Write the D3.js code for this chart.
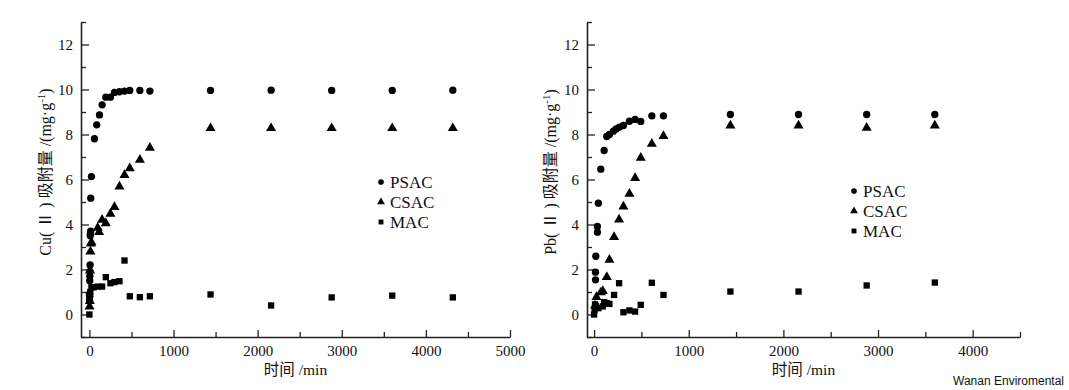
<!DOCTYPE html>
<html>
<head>
<meta charset="utf-8">
<script src="https://cdn.jsdelivr.net/npm/d3@7"></script>
<style>
  body { margin: 0; background: #fff; }
  svg text { font-family: "Liberation Serif", "Noto Sans CJK SC", serif; fill: #111; }
</style>
</head>
<body>
<div id="chart"></div>
<script>
var svgWidth = 1069;
var svgHeight = 390;

// series names
var seriesNames = ["PSAC", "CSAC", "MAC"];

// Cu(II) panel, time in min
var cuPsacT = [0, 2, 3, 4, 5, 6, 8, 10, 12, 15, 16, 24, 60, 87, 120, 151, 195, 250, 298, 357, 417, 480, 600, 719, 1440, 2160, 2880, 3600, 4320];
var cuPsacV = [0.9, 0.6, 0.8, 1.5, 1.7, 1.9, 2.2, 3.5, 3.6, 3.7, 5.17, 6.13, 7.81, 8.43, 8.87, 9.32, 9.66, 9.66, 9.87, 9.9, 9.93, 9.96, 9.96, 9.93, 9.96, 9.97, 9.96, 9.96, 9.97];
var cuCsacT = [2, 5, 8, 12, 18, 24, 99, 115, 151, 195, 250, 298, 357, 417, 480, 600, 719, 1440, 2160, 2880, 3600, 4320];
var cuCsacV = [0.35, 0.6, 1.95, 2.8, 3.15, 3.21, 3.85, 3.66, 4.21, 4.05, 4.47, 4.77, 5.69, 6.2, 6.5, 6.87, 7.41, 8.28, 8.28, 8.28, 8.28, 8.28];
var cuMacT = [0, 3, 5, 8, 10, 24, 51, 99, 151, 195, 250, 298, 357, 417, 480, 600, 719, 1440, 2160, 2880, 3600, 4320];
var cuMacV = [0, 0.65, 0.75, 0.85, 1.0, 1.21, 1.21, 1.24, 1.24, 1.66, 1.39, 1.44, 1.48, 2.4, 0.81, 0.77, 0.81, 0.89, 0.4, 0.76, 0.84, 0.76];

// Pb(II) panel, time in min
var pbPsacT = [15, 15, 15, 18, 35, 35, 45, 71, 106, 134, 162, 204, 233, 268, 310, 373, 433, 493, 610, 733, 1440, 2160, 2880, 3600];
var pbPsacV = [1.54, 1.88, 0.4, 2.59, 3.66, 3.91, 4.95, 6.46, 7.29, 7.91, 8.0, 8.15, 8.25, 8.33, 8.4, 8.59, 8.67, 8.58, 8.83, 8.83, 8.89, 8.89, 8.89, 8.89];
var pbCsacT = [10, 25, 71, 92, 134, 162, 211, 264, 310, 373, 433, 493, 610, 733, 1440, 2160, 2880, 3600];
var pbCsacV = [0.4, 0.77, 0.98, 1.04, 1.66, 2.43, 3.44, 4.22, 4.8, 5.36, 6.06, 6.96, 7.59, 7.93, 8.4, 8.4, 8.3, 8.4];
var pbMacT = [0, 5, 10, 20, 45, 92, 106, 134, 162, 211, 264, 310, 373, 433, 493, 610, 733, 1440, 2160, 2880, 3600];
var pbMacV = [0, 0.2, 0.45, 0.3, 0.28, 0.36, 0.55, 0.5, 0.47, 0.87, 1.39, 0.1, 0.18, 0.13, 0.43, 1.41, 0.87, 1.02, 1.02, 1.29, 1.42];

var xTicksCu = [0, 1000, 2000, 3000, 4000, 5000];
var xTicksPb = [0, 1000, 2000, 3000, 4000];
var yTicks = [0, 2, 4, 6, 8, 10, 12];

var svg = d3.select("#chart")
  .append("svg")
  .attr("width", svgWidth)
  .attr("height", svgHeight);

function zip(t, v) {
  return t.map(function(d, i) { return {t: d, v: v[i]}; });
}

var symbolOf = {PSAC: d3.symbolCircle, CSAC: d3.symbolTriangle, MAC: d3.symbolSquare};
var sizeOf = {PSAC: 42, CSAC: 44, MAC: 40};

function drawPanel(opt) {
  var x = d3.scaleLinear().domain(opt.xDomain).range([opt.left, opt.right]);
  var y = d3.scaleLinear().domain([-1, 13]).range([337, 22]);
  var g = svg.append("g");

  // axes (ticks inward)
  var xMinor = d3.range(500, opt.xDomain[1] + 1, 1000);
  var yMinor = d3.range(-1, 14, 2);

  g.append("g")
    .attr("transform", "translate(0,337)")
    .call(d3.axisTop(x).tickValues(xMinor).tickSize(5).tickFormat(""))
    .call(function(a) { a.select(".domain").remove(); });
  var xa = g.append("g")
    .attr("transform", "translate(0,337)")
    .call(d3.axisTop(x).tickValues(opt.xTicks).tickSize(7).tickSizeOuter(0).tickFormat(d3.format("d")));
  xa.selectAll("text").attr("y", 8).attr("dy", "0.71em").style("font-size", "15px");

  g.append("g")
    .attr("transform", "translate(" + opt.left + ",0)")
    .call(d3.axisRight(y).tickValues(yMinor).tickSize(5).tickFormat(""))
    .call(function(a) { a.select(".domain").remove(); });
  var ya = g.append("g")
    .attr("transform", "translate(" + opt.left + ",0)")
    .call(d3.axisRight(y).tickValues(yTicks).tickSize(8).tickSizeOuter(0));
  ya.selectAll("text").attr("x", -8).attr("text-anchor", "end").style("font-size", "15px");

  g.selectAll(".domain").attr("stroke", "#222").attr("stroke-width", 1.6);
  g.selectAll(".tick line").attr("stroke", "#222").attr("stroke-width", 1.3);

  // points
  opt.series.forEach(function(s, i) {
    var name = seriesNames[i];
    g.append("g").selectAll("path")
      .data(s)
      .enter()
      .append("path")
      .attr("transform", function(d) { return "translate(" + x(d.t) + "," + y(d.v) + ")"; })
      .attr("d", d3.symbol().type(symbolOf[name]).size(sizeOf[name]))
      .attr("fill", "#000");
  });

  // legend
  seriesNames.forEach(function(name, i) {
    var ly = opt.legendY + i * 20;
    g.append("path")
      .attr("transform", "translate(" + opt.legendX + "," + ly + ")")
      .attr("d", d3.symbol().type(symbolOf[name]).size(sizeOf[name] * 0.6))
      .attr("fill", "#000");
    g.append("text")
      .attr("x", opt.legendX + 9)
      .attr("y", ly + 6)
      .style("font-size", "17px")
      .text(name);
  });

  // axis titles
  g.append("text")
    .attr("x", (opt.left + opt.right) / 2)
    .attr("y", 375)
    .attr("text-anchor", "middle")
    .style("font-size", "15.5px")
    .text("时间 /min");

  var yt = g.append("text")
    .attr("transform", "translate(" + opt.yTitleX + ",172) rotate(-90)")
    .attr("text-anchor", "middle")
    .style("font-size", "16px");
  yt.append("tspan").text(opt.metal + "( Ⅱ ) 吸附量 /(mg·g");
  yt.append("tspan").attr("dy", -6).style("font-size", "11px").text("-1");
  yt.append("tspan").attr("dy", 6).text(")");
}

drawPanel({
  xDomain: [-100, 5000], left: 81, right: 510,
  xTicks: xTicksCu, metal: "Cu", yTitleX: 51,
  legendX: 381, legendY: 182,
  series: [zip(cuPsacT, cuPsacV), zip(cuCsacT, cuCsacV), zip(cuMacT, cuMacV)]
});

drawPanel({
  xDomain: [-75, 4500], left: 587, right: 1020,
  xTicks: xTicksPb, metal: "Pb", yTitleX: 556,
  legendX: 854, legendY: 191,
  series: [zip(pbPsacT, pbPsacV), zip(pbCsacT, pbCsacV), zip(pbMacT, pbMacV)]
});

svg.append("text")
  .attr("x", 1064)
  .attr("y", 385)
  .attr("text-anchor", "end")
  .style("font-family", "'Liberation Sans', Arial, sans-serif")
  .style("font-size", "12px")
  .text("Wanan Enviromental");
</script>
</body>
</html>
